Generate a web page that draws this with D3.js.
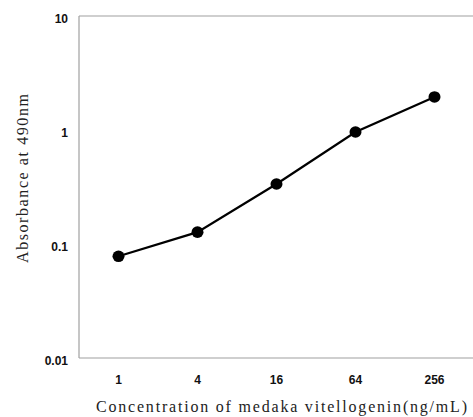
<!DOCTYPE html>
<html><head><meta charset="utf-8">
<script src="https://cdn.jsdelivr.net/npm/d3@7"></script>
<style>body{margin:0;background:#fff}</style>
</head><body>
<svg id="c" width="473" height="417"></svg>
<script>
const categories = ["1", "4", "16", "64", "256"];
const absorbance = [0.078, 0.127, 0.336, 0.96, 1.95];
const yTicks = [0.01, 0.1, 1, 10];
const yTickLabels = ["0.01", "0.1", "1", "10"];

const svg = d3.select("#c");
const m = {l: 79, t: 16, r: 473, b: 358};
const x = d3.scaleBand().domain(categories).range([m.l, m.l + 79 * 5]);
const y = d3.scaleLog().domain([0.01, 10]).range([m.b, m.t]);

// frame
svg.append("line").attr("x1", m.l).attr("x2", m.l).attr("y1", m.t).attr("y2", m.b).attr("stroke", "#a0a0a0").attr("stroke-width", 1.2);
svg.append("line").attr("x1", m.l).attr("x2", 473).attr("y1", m.t).attr("y2", m.t).attr("stroke", "#a0a0a0").attr("stroke-width", 1.2);
svg.append("line").attr("x1", m.l).attr("x2", 473).attr("y1", m.b).attr("y2", m.b).attr("stroke", "#a0a0a0").attr("stroke-width", 1.2);

const yAxis = d3.axisLeft(y).tickValues(yTicks).tickFormat((d, i) => yTickLabels[i]).tickSize(0).tickPadding(11);
const ga = svg.append("g").attr("transform", `translate(${m.l},0)`).call(yAxis);
ga.select(".domain").remove();
ga.selectAll("text").attr("font-family", "Liberation Sans, Arial, sans-serif").attr("font-size", 12).attr("font-weight", 600).attr("fill", "#111").attr("dy", "0.5em");

const xAxis = d3.axisBottom(x).tickSize(0).tickPadding(17);
const gx = svg.append("g").attr("transform", `translate(0,${m.b})`).call(xAxis);
gx.select(".domain").remove();
gx.selectAll("text").attr("font-family", "Liberation Sans, Arial, sans-serif").attr("font-size", 12).attr("font-weight", 600).attr("fill", "#111");

const line = d3.line().x((d, i) => x(categories[i]) + x.bandwidth() / 2).y(d => y(d));
svg.append("path").datum(absorbance).attr("d", line).attr("fill", "none").attr("stroke", "#000").attr("stroke-width", 2.2);
svg.selectAll("ellipse.pt").data(absorbance).join("ellipse")
  .attr("cx", (d, i) => x(categories[i]) + x.bandwidth() / 2).attr("cy", d => y(d))
  .attr("rx", 6).attr("ry", 5.8).attr("fill", "#000");

svg.append("text").attr("x", 96).attr("y", 412)
  .attr("font-family", "Liberation Serif, serif").attr("font-size", 16).attr("fill", "#222")
  .attr("textLength", 371).attr("lengthAdjust", "spacing")
  .text("Concentration of medaka vitellogenin(ng/mL)");
svg.append("text").attr("transform", "translate(28,263) rotate(-90)")
  .attr("font-family", "Liberation Serif, serif").attr("font-size", 16).attr("fill", "#222")
  .attr("textLength", 169).attr("lengthAdjust", "spacing")
  .text("Absorbance at 490nm");
</script>
</body></html>
